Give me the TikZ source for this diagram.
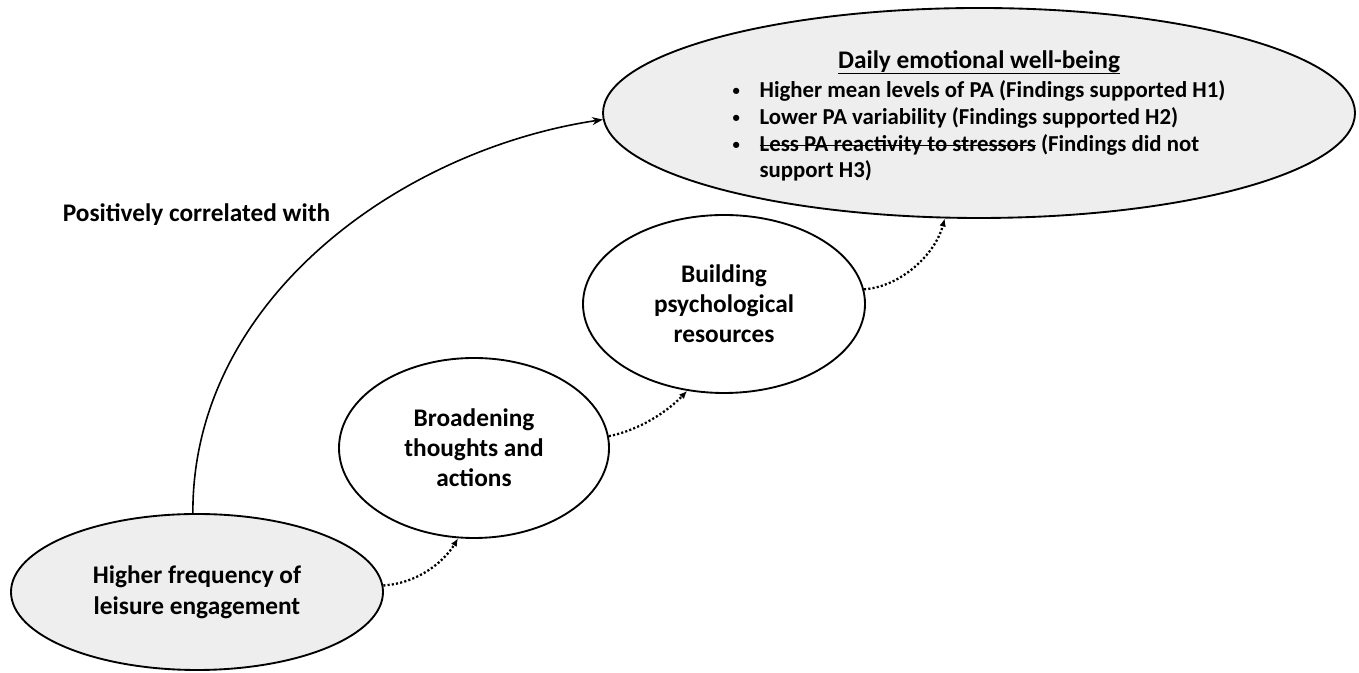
\documentclass[tikz,border=0pt]{standalone}
\usepackage{fontspec}
\setmainfont{Carlito}
\usetikzlibrary{arrows.meta,shapes.geometric}
\definecolor{ellfill}{RGB}{238,238,238}
\newlength\mylen
\newcommand\myul[1]{\settowidth\mylen{#1}\rlap{\rule[-4pt]{\mylen}{0.9pt}}#1}
\newcommand\myso[1]{\settowidth\mylen{#1}\rlap{\rule[4pt]{\mylen}{0.9pt}}#1}
\newcommand\mybul{\raisebox{1.5pt}{\fontsize{11}{11}\selectfont\textbullet}}
\begin{document}
\begin{tikzpicture}[x=0.75pt,y=0.75pt,
  ell/.style={ellipse, draw=black, line width=1.4pt, inner sep=0pt, align=center,
    font=\fontsize{19}{22.5}\selectfont\bfseries},
  grayell/.style={ell, fill=ellfill},
  whiteell/.style={ell, fill=white},
  lbl/.style={inner sep=0pt, anchor=base, font=\fontsize{19}{22.5}\selectfont\bfseries},
  solidarrow/.style={line width=1.2pt, -{Stealth[length=8pt,width=6pt]}},
  dotarrow/.style={line width=1.7pt, dash pattern=on 1.6pt off 1.6pt, -{Latex[length=6pt,width=5pt]}}]
\useasboundingbox (0,0) rectangle (1359,673);
\fill[white] (0,0) rectangle (1359,673);

\node[grayell, minimum width={752*0.75pt}, minimum height={210*0.75pt}] (de) at (979,560)
  {\fontsize{17.1}{20}\selectfont\bfseries
   \begin{tabular}{@{}p{20.25pt}@{}l@{}}
   \multicolumn{2}{c}{\rule{0pt}{21.5pt}\fontsize{19}{20}\selectfont\myul{Daily emotional well-being}}\\[1.75pt]
   \mybul & Higher mean levels of PA (Findings supported H1)\\
   \mybul & Lower PA variability (Findings supported H2)\\
   \mybul & \myso{Less PA reactivity to stressors} (Findings did not\\
   & support H3)
   \end{tabular}};

\node[grayell, minimum width={372*0.75pt}, minimum height={156*0.75pt},
  font=\fontsize{19}{23.5}\selectfont\bfseries] (hf) at (197,81)
  {Higher frequency of\\leisure engagement};
\node[whiteell, minimum width={270*0.75pt}, minimum height={180*0.75pt}] (br) at (474,225)
  {Broadening\\thoughts and\\actions};
\node[whiteell, minimum width={282*0.75pt}, minimum height={178*0.75pt}] (bu) at (724,369)
  {Building\\psychological\\resources};

\node[lbl] (pc) at (196.5,451) {Positively correlated with};

\draw[solidarrow] (hf.93) .. controls (192,373) and (400,523) .. (de.181);
\draw[dotarrow] (hf.2) .. controls (420,90) and (445,113) .. (br.-100);
\draw[dotarrow] (br.5) .. controls (640,243) and (668,262) .. (bu.-113);
\draw[dotarrow] (bu.6) .. controls (900,386) and (935,418) .. (de.-108);
\end{tikzpicture}
\end{document}
